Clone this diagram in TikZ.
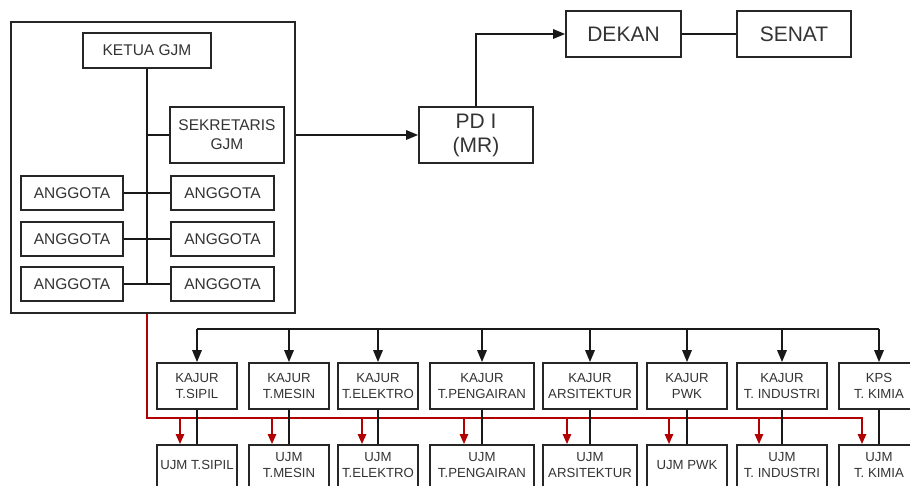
\documentclass[tikz,border=0pt]{standalone}
\usepackage{fontspec}
\setmainfont{Liberation Sans}
\usetikzlibrary{arrows.meta,calc}
\begin{document}
\begin{tikzpicture}[x=1pt,y=-1pt,
  box/.style={draw=black!85,line width=1.8pt,rectangle,inner sep=0pt,align=center,text=black!80},
  bigtxt/.style={font=\fontsize{15.5}{19}\selectfont},
  toptxt/.style={font=\fontsize{21}{24}\selectfont},
  smalltxt/.style={font=\fontsize{13.2}{15.5}\selectfont},
  kbox/.style={box,smalltxt,minimum height=46},
  ubox/.style={box,minimum height=70,anchor=north},
  utxt/.style={smalltxt,align=center,text=black!80,inner sep=0pt},
  conn/.style={draw=black!90,line width=1.6pt},
  arr/.style={conn,-{Triangle[length=12pt,width=9.5pt]}},
  rarr/.style={draw=red!70!black,line width=1.5pt,-{Triangle[length=10pt,width=8.5pt]}}
]
\useasboundingbox (0,0) rectangle (910,486);
\clip (0,0) rectangle (910,486);

% GJM group
\node[box,minimum width=284,minimum height=291] (gjm) at (153,167.5) {};
\node[box,bigtxt,minimum width=128,minimum height=35] (ketua) at (147,50.5) {KETUA GJM};
\node[box,bigtxt,minimum width=114,minimum height=56] (sek) at (227,135) {SEKRETARIS\\GJM};
\node[box,bigtxt,minimum width=102,minimum height=34] (al1) at (72,193) {ANGGOTA};
\node[box,bigtxt,minimum width=102,minimum height=34] (al2) at (72,239) {ANGGOTA};
\node[box,bigtxt,minimum width=102,minimum height=34] (al3) at (72,284) {ANGGOTA};
\node[box,bigtxt,minimum width=103,minimum height=34] (ar1) at (222.5,193) {ANGGOTA};
\node[box,bigtxt,minimum width=103,minimum height=34] (ar2) at (222.5,239) {ANGGOTA};
\node[box,bigtxt,minimum width=103,minimum height=34] (ar3) at (222.5,284) {ANGGOTA};

\draw[conn] (ketua.south) -- (ketua.south |- al3.east);
\draw[conn] (sek.west) -- (sek.west -| ketua.south);
\draw[conn] (al1.east) -- (ar1.west);
\draw[conn] (al2.east) -- (ar2.west);
\draw[conn] (al3.east) -- (ar3.west);

% top chain
\node[box,toptxt,minimum width=114,minimum height=56] (pd) at (476,135) {PD I\\(MR)};
\node[box,toptxt,minimum width=115,minimum height=46] (dekan) at (623.5,34) {DEKAN};
\node[box,toptxt,minimum width=114,minimum height=46] (senat) at (794,34) {SENAT};

\draw[arr] (gjm.east |- pd.west) -- (pd.west);
\draw[arr] (pd.north) |- (dekan.west);
\draw[conn] (dekan.east) -- (senat.west);

% KAJUR row
\node[kbox,minimum width=80] (k1) at (197,386) {KAJUR\\T.SIPIL};
\node[kbox,minimum width=80] (k2) at (289,386) {KAJUR\\T.MESIN};
\node[kbox,minimum width=80] (k3) at (378,386) {KAJUR\\T.ELEKTRO};
\node[kbox,minimum width=104] (k4) at (482,386) {KAJUR\\T.PENGAIRAN};
\node[kbox,minimum width=94] (k5) at (590,386) {KAJUR\\ARSITEKTUR};
\node[kbox,minimum width=80] (k6) at (687,386) {KAJUR\\PWK};
\node[kbox,minimum width=90] (k7) at (782,386) {KAJUR\\T. INDUSTRI};
\node[kbox,minimum width=80] (k8) at (879,386) {KPS\\T. KIMIA};

% UJM row
\node[ubox,minimum width=80] (u1) at (197,444) {};
\node[ubox,minimum width=80] (u2) at (289,444) {};
\node[ubox,minimum width=80] (u3) at (378,444) {};
\node[ubox,minimum width=104] (u4) at (482,444) {};
\node[ubox,minimum width=94] (u5) at (590,444) {};
\node[ubox,minimum width=80] (u6) at (687,444) {};
\node[ubox,minimum width=90] (u7) at (782,444) {};
\node[ubox,minimum width=80] (u8) at (879,444) {};
\node[utxt] (t1) at ($(u1.north)+(0,21)$) {UJM T.SIPIL};
\node[utxt] (t2) at ($(u2.north)+(0,21)$) {UJM\\T.MESIN};
\node[utxt] (t3) at ($(u3.north)+(0,21)$) {UJM\\T.ELEKTRO};
\node[utxt] (t4) at ($(u4.north)+(0,21)$) {UJM\\T.PENGAIRAN};
\node[utxt] (t5) at ($(u5.north)+(0,21)$) {UJM\\ARSITEKTUR};
\node[utxt] (t6) at ($(u6.north)+(0,21)$) {UJM PWK};
\node[utxt] (t7) at ($(u7.north)+(0,21)$) {UJM\\T. INDUSTRI};
\node[utxt] (t8) at ($(u8.north)+(0,21)$) {UJM\\T. KIMIA};

% red line from GJM
\draw[rarr] (ketua.south |- gjm.south) |- ($(u8.north)+(-17,-26)$) -- ($(u8.north)+(-17,0)$);
\draw[rarr] ($(u1.north)+(-17,-26)$) -- ($(u1.north)+(-17,0)$);
\draw[rarr] ($(u2.north)+(-17,-26)$) -- ($(u2.north)+(-17,0)$);
\draw[rarr] ($(u3.north)+(-16,-26)$) -- ($(u3.north)+(-16,0)$);
\draw[rarr] ($(u4.north)+(-18,-26)$) -- ($(u4.north)+(-18,0)$);
\draw[rarr] ($(u5.north)+(-23,-26)$) -- ($(u5.north)+(-23,0)$);
\draw[rarr] ($(u6.north)+(-18,-26)$) -- ($(u6.north)+(-18,0)$);
\draw[rarr] ($(u7.north)+(-23,-26)$) -- ($(u7.north)+(-23,0)$);

% bus to KAJUR
\coordinate (bus) at (0,329);
\draw[conn] (k1.north |- bus) -- (k8.north |- bus);
\foreach \k in {k1,k2,k3,k4,k5,k6,k7,k8}{
  \draw[arr] (\k.north |- bus) -- (\k.north);
}
% KAJUR to UJM
\draw[conn] (k1.south) -- (u1.north);
\draw[conn] (k2.south) -- (u2.north);
\draw[conn] (k3.south) -- (u3.north);
\draw[conn] (k4.south) -- (u4.north);
\draw[conn] (k5.south) -- (u5.north);
\draw[conn] (k6.south) -- (u6.north);
\draw[conn] (k7.south) -- (u7.north);
\draw[conn] (k8.south) -- (u8.north);
\end{tikzpicture}
\end{document}
